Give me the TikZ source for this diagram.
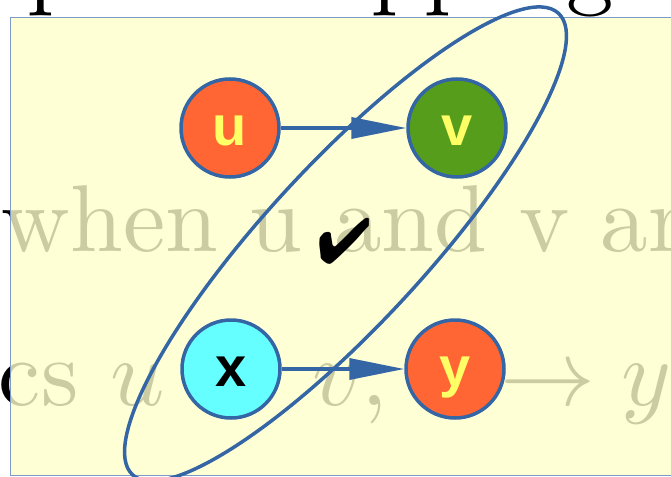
\documentclass[tikz,border=0pt]{standalone}
\usepackage{fontspec}
\usepackage{pifont}
\usetikzlibrary{arrows.meta}
\newfontfamily\nodefont{Liberation Sans}
\definecolor{edgeblue}{HTML}{3465A4}
\definecolor{redorange}{HTML}{FF6633}
\definecolor{leafgreen}{HTML}{579D1C}
\definecolor{lightcyan}{HTML}{66FFFF}
\definecolor{labelyellow}{HTML}{FFFF66}
\definecolor{boxyellow}{HTML}{FFFFCC}
\definecolor{boxedge}{HTML}{7E9BC8}

\begin{document}
\begin{tikzpicture}[x=1pt, y=-1pt,
    vertex/.style={circle, draw=edgeblue, line width=3.5pt, minimum size=98pt, inner sep=0pt,
      text height=47pt, text depth=12pt, font=\nodefont\bfseries\fontsize{56}{60}\selectfont},
    link/.style={edgeblue, line width=3.5pt, -{Triangle[length=55pt, width=21pt]}},
    slidetext/.style={anchor=base west, inner sep=0pt, scale=9.5}]
		\useasboundingbox (0, 0) rectangle (671, 476);
		\node [slidetext] (top1) at (26, -2) {p};
		\node [slidetext] (top2) at (370, -2) {pp};
		\node [slidetext] (top3) at (565, -2) {g};
		\node [slidetext] (line1) at (0, 251) {when u and v ar};
		\node [slidetext] (line2) at (-3, 405) {cs $u\hphantom{{}\to{}}v$, $\hphantom{x}\to y$};
		\fill [boxyellow, opacity=0.8] (10.5, 18) rectangle (690, 475.5);
		\draw [boxedge, line width=1pt] (690, 18) -- (10.5, 18) -- (10.5, 475.5) -- (690, 475.5);
		\node [vertex, fill=redorange, text=labelyellow] (u) at (230, 128) {u};
		\node [vertex, fill=leafgreen, text=labelyellow] (v) at (457, 128) {v};
		\node [vertex, fill=lightcyan, text=black] (x) at (231, 369) {x};
		\node [vertex, fill=redorange, text=labelyellow] (y) at (455, 369) {y};
		\draw [link] (u) -- (v);
		\draw [link] (x) -- (y);
		\draw [edgeblue, line width=3.5pt, shift={(345.5, 244)}, rotate=47.3] (0, 0) ellipse [x radius=314, y radius=80];
		\node [scale=6.4, inner sep=0pt] (tick) at (345, 241) {\ding{52}};
	\end{tikzpicture}
\end{document}
